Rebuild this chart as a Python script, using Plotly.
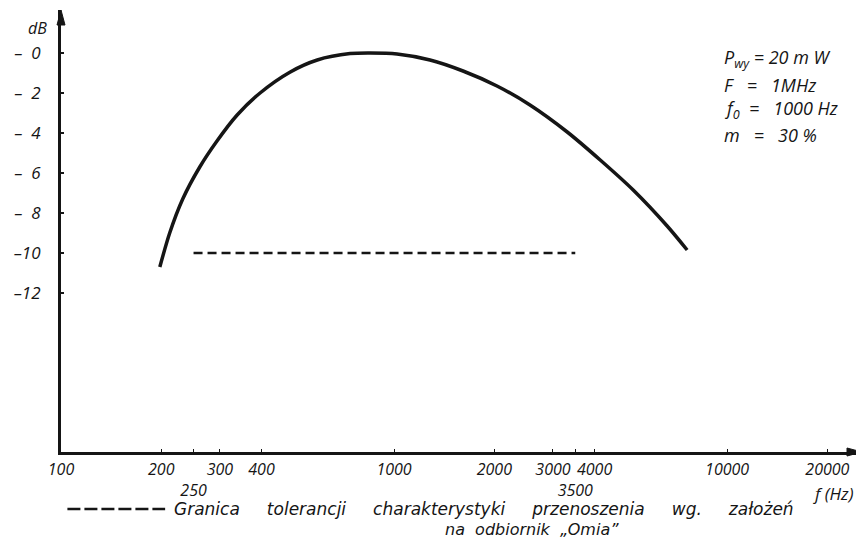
import plotly.graph_objects as go

# Frequency response curve
freq_hz = [198, 212, 232, 261, 294, 338, 396, 488, 588, 738, 847, 1021,
           1282, 1611, 2037, 2559, 3311, 4159, 5224, 6607, 7586]
level_db = [-10.7, -9.0, -7.3, -5.7, -4.4, -3.1, -2.0, -0.95, -0.35, -0.03, 0.0, -0.05,
            -0.35, -0.9, -1.65, -2.6, -3.95, -5.35, -6.85, -8.65, -9.85]

# Tolerance limit (dashed)
tol_freq_hz = [250, 3500]
tol_level_db = [-10, -10]

# Axis ticks
x_tickvals = [100, 200, 250, 300, 400, 1000, 2000, 3000, 3500, 4000, 10000, 20000]
x_ticktext = ["100", "200", "<br>250", "300", "400", "1000", "2000", "3000",
              "<br>3500", "4000", "10000", "20000"]
y_tickvals = [0, -2, -4, -6, -8, -10, -12]
y_ticktext = ["\u2013\u00a0\u00a00", "\u2013\u00a0\u00a02", "\u2013\u00a0\u00a04",
              "\u2013\u00a0\u00a06", "\u2013\u00a0\u00a08", "\u201310", "\u201312"]

NB = "\u00a0"
params = ["P<sub>wy</sub>" + NB + "=" + NB + "20" + NB + "m" + NB + "W",
          "F" + NB * 3 + "=" + NB * 3 + "1MHz",
          "f<sub>0</sub>" + NB * 2 + "=" + NB * 3 + "1000" + NB + "Hz",
          "m" + NB * 3 + "=" + NB * 3 + "30" + NB + "%"]
caption1 = (NB * 5).join(["Granica", "tolerancji", "charakterystyki", "przenoszenia",
                          "wg.", "za\u0142o\u017ce\u0144"])
caption2 = (NB * 2).join(["na", "odbiornik", "\u201eOmia\u201d"])

FONT = "'Open Sans', Roboto, sans-serif"
CAP_FONT = "'DejaVu Sans', 'Open Sans', sans-serif"
ink = "#151515"

fig = go.Figure()
fig.add_trace(go.Scatter(x=freq_hz, y=level_db, mode="lines",
                         line=dict(color=ink, width=3.5, shape="spline", smoothing=0.8),
                         hoverinfo="skip", showlegend=False))
fig.add_trace(go.Scatter(x=tol_freq_hz, y=tol_level_db, mode="lines",
                         line=dict(color=ink, width=2.5, dash="9px,5px"),
                         hoverinfo="skip", showlegend=False))

# the page body has an 8px margin, so the figure is 8px smaller than the window
fig.update_layout(
    width=856, height=533,
    margin=dict(l=53, r=2, t=2, b=89),
    paper_bgcolor="white", plot_bgcolor="white",
    font=dict(family=FONT, color=ink, size=17, style="italic"),
    xaxis=dict(type="log", range=[2, 4.405], tickvals=x_tickvals, ticktext=x_ticktext,
               tickangle=0,
               showgrid=False, zeroline=False, showline=True, linecolor=ink, linewidth=2.5,
               ticks="inside", ticklen=3, tickcolor=ink, tickwidth=1,
               tickfont=dict(family=FONT, size=16, style="italic", color=ink),
               ticklabelstandoff=1, automargin=False, fixedrange=True),
    yaxis=dict(range=[-19.95, 2.15], tickvals=y_tickvals, ticktext=y_ticktext,
               showgrid=False, zeroline=False, showline=True, linecolor=ink, linewidth=3,
               ticks="inside", ticklen=3, tickcolor=ink, tickwidth=1.5,
               tickfont=dict(family=FONT, size=17, style="italic", color=ink),
               ticklabelstandoff=14, automargin=False, fixedrange=True),
)

# axis arrowheads (paper units: 1px = 1/801 in x, 1/442 in y)
px_x = 1 / 801
px_y = 1 / 442
fig.add_shape(type="path", xref="paper", yref="paper",
              path=f"M 0,1 L {-4*px_x},{1-15*px_y} L {4*px_x},{1-15*px_y} Z",
              fillcolor=ink, line=dict(color=ink, width=1))
fig.add_shape(type="path", xref="paper", yref="paper",
              path=f"M 1,0 L {1-15*px_x},{4*px_y} L {1-15*px_x},{-4*px_y} Z",
              fillcolor=ink, line=dict(color=ink, width=1))

fig.add_annotation(xref="paper", yref="paper", x=-0.029, y=0.959, text="dB",
                   xanchor="center", yanchor="middle",
                   showarrow=False, font=dict(size=16, style="italic"))
fig.add_annotation(xref="paper", yref="paper", x=0.964, y=-0.094, text="f" + NB + "(Hz)",
                   xanchor="center", yanchor="middle",
                   showarrow=False, font=dict(size=17, style="italic"))

for txt, yy in zip(params, [0.891, 0.830, 0.776, 0.717]):
    fig.add_annotation(xref="paper", yref="paper", x=0.825, y=yy, text=txt,
                       xanchor="left", yanchor="middle", showarrow=False,
                       font=dict(size=18, style="italic"))

# caption with dashed sample
fig.add_shape(type="line", xref="paper", yref="paper", x0=0.008, x1=0.13,
              y0=-0.129, y1=-0.129, line=dict(color=ink, width=2.5, dash="13px,4px"))
fig.add_annotation(xref="paper", yref="paper", x=0.139, y=-0.129, text=caption1,
                   xanchor="left", yanchor="middle", showarrow=False,
                   font=dict(family=CAP_FONT, size=17, style="italic"))
fig.add_annotation(xref="paper", yref="paper", x=0.477, y=-0.176, text=caption2,
                   xanchor="left", yanchor="middle", showarrow=False,
                   font=dict(family=CAP_FONT, size=16, style="italic"))

fig.write_html("out.html")
